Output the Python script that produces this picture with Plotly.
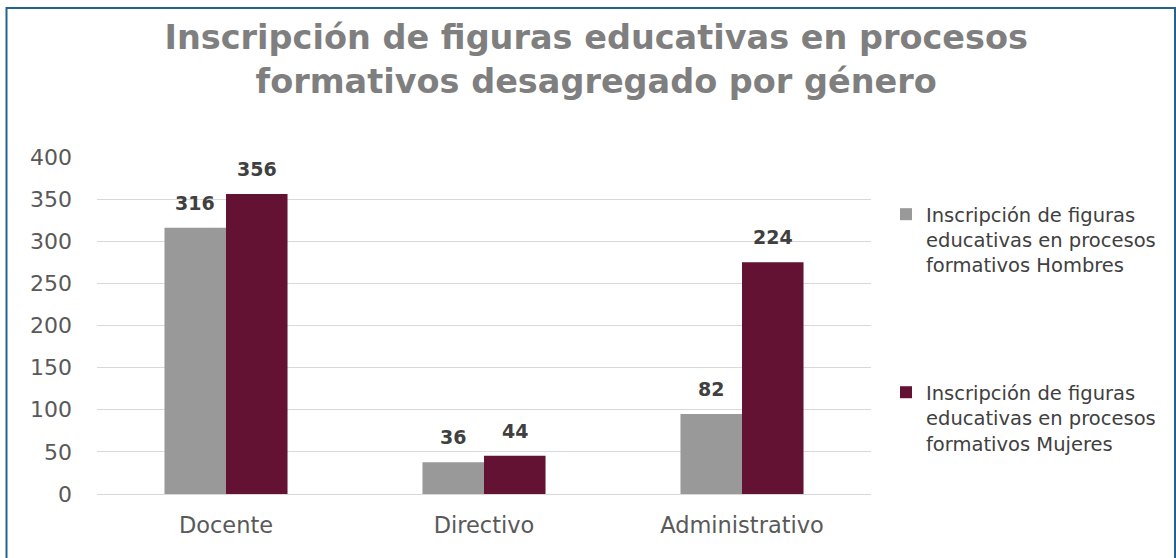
import plotly.graph_objects as go

categories = ["Docente", "Directivo", "Administrativo"]
# bar heights as drawn in the picture
hombres_vals = [316, 37.6, 95]
mujeres_vals = [356, 45.5, 275]
# data labels printed on the picture
hombres_labels = ["316", "36", "82"]
mujeres_labels = ["356", "44", "224"]

name_h = "Inscripción de figuras<br>educativas en procesos<br>formativos Hombres"
name_m = "Inscripción de figuras<br>educativas en procesos<br>formativos Mujeres"

GRAY = "#999999"
MAROON = "#641233"
FONT = "DejaVu Sans"

L, R, T, B = 97, 871, 157, 494
PW, PH = R - L, B - T

fig = go.Figure()
fig.add_trace(go.Bar(x=categories, y=hombres_vals, name=name_h, legendgroup="h",
                     marker=dict(color=GRAY, line=dict(width=0)), showlegend=True))
fig.add_trace(go.Bar(x=categories, y=mujeres_vals, name=name_m, legendgroup="m",
                     marker=dict(color=MAROON, line=dict(width=0)), showlegend=True))

annotations = []
for vals, labs, shift in ((hombres_vals, hombres_labels, -31), (mujeres_vals, mujeres_labels, 31)):
    for c, v, t in zip(categories, vals, labs):
        annotations.append(dict(x=c, y=v, text=f"<b>{t}</b>", showarrow=False,
                                xshift=shift, yshift=25, yanchor="middle",
                                font=dict(family=FONT, size=19, color="#404040")))

fig.update_layout(
    width=1176, height=558,
    margin=dict(l=L, r=1176 - R, t=T, b=558 - B),
    paper_bgcolor="white", plot_bgcolor="white",
    showlegend=True,
    barmode="group", bargap=0.523, bargroupgap=0,
    title=dict(text="<b>Inscripción de figuras educativas en procesos<br>formativos desagregado por género</b>",
               x=0.507, xanchor="center", yref="container", y=0.912, yanchor="top",
               font=dict(family=FONT, size=33.5, color="#7F7F7F")),
    font=dict(family=FONT, color="#595959"),
    xaxis=dict(showgrid=False, showline=False, ticks="",
               tickfont=dict(family=FONT, size=22.5, color="#595959"), ticklabelstandoff=15),
    yaxis=dict(range=[0, 400], dtick=50, showgrid=True, gridcolor="#D9D9D9", gridwidth=1,
               zeroline=True, zerolinecolor="#D9D9D9", zerolinewidth=1, showline=False,
               tickfont=dict(family=FONT, size=22, color="#595959"), ticklabelstandoff=24),
    legend=dict(x=(886 - L) / PW, y=(B - 195) / PH, xanchor="left", yanchor="top", valign="top",
                font=dict(family=FONT, size=19.5, color="#404040"), bgcolor="rgba(0,0,0,0)",
                itemwidth=30, tracegroupgap=99, traceorder="grouped"),
    annotations=annotations,
    shapes=[dict(type="rect", xref="paper", yref="paper",
                 x0=(6.5 - L) / PW, x1=(1175 - L) / PW,
                 y0=(B - 565) / PH, y1=(B - 8) / PH,
                 line=dict(color="#23648F", width=2), fillcolor="rgba(0,0,0,0)", layer="below")],
)

fig.write_html("out.html", config={"displayModeBar": False},
               post_script="document.body.style.margin='0';")
